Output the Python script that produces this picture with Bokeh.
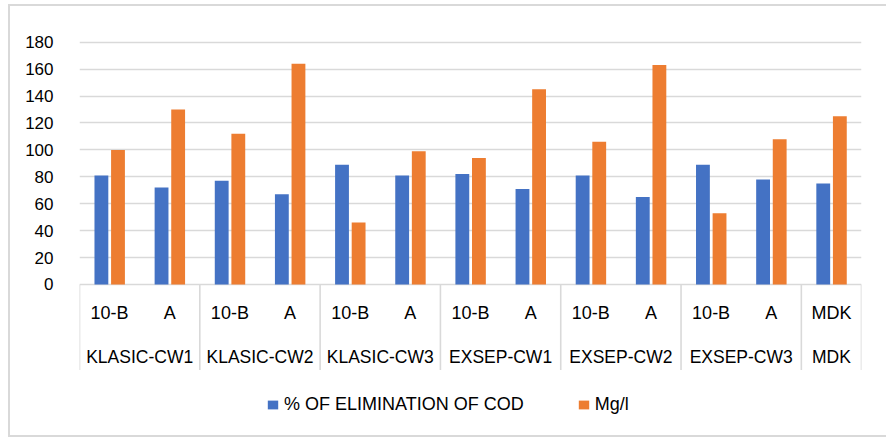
from bokeh.plotting import figure
from bokeh.models import FactorRange, Range1d, FixedTicker, ColumnDataSource, Legend, LegendItem
from bokeh.transform import dodge
from bokeh.core.properties import value
from bokeh.embed import file_html
from bokeh.resources import INLINE

# ---- data ----
groups = ["KLASIC-CW1", "KLASIC-CW2", "KLASIC-CW3", "EXSEP-CW1", "EXSEP-CW2", "EXSEP-CW3", "MDK"]
group_members = [["10-B", "A"], ["10-B", "A"], ["10-B", "A"], ["10-B", "A"],
                 ["10-B", "A"], ["10-B", "A"], ["MDK"]]
cod_elimination = [81, 72, 77, 67, 89, 81, 82, 71, 81, 65, 89, 78, 75]
mg_per_l = [100, 130, 112, 164, 46, 99, 94, 145, 106, 163, 53, 108, 125]
y_ticks = [0, 20, 40, 60, 80, 100, 120, 140, 160, 180]
series_names = ["% OF ELIMINATION OF COD", "Mg/l"]

BLUE = "#4472C4"
ORANGE = "#ED7D31"
GRID = "#d9d9d9"
FONT = "Liberation Sans"

factors = [(g, s) for g, subs in zip(groups, group_members) for s in subs]

p = figure(
    x_range=FactorRange(*factors, range_padding=0, group_padding=0,
                        factor_padding=0, subgroup_padding=0),
    y_range=Range1d(-103.3, 185),
    width=878, height=433,
    output_backend="svg", toolbar_location=None,
    x_axis_location=None,
    min_border_left=69, min_border_right=27, min_border_top=29, min_border_bottom=16,
)
p.margin = (4, 0, 0, 8)
p.outline_line_color = None
p.styles = {"border-left": "2px solid #d9d9d9",
            "border-top": "2px solid #d9d9d9",
            "border-bottom": "2px solid #d9d9d9"}

src = ColumnDataSource(dict(x=factors, cod=cod_elimination, mg=mg_per_l))
r1 = p.vbar(x=dodge("x", -0.136, range=p.x_range), top="cod", width=0.23,
            source=src, fill_color=BLUE, line_color=None)
r2 = p.vbar(x=dodge("x", 0.14, range=p.x_range), top="mg", width=0.23,
            source=src, fill_color=ORANGE, line_color=None)

# y axis / grid
p.yaxis.ticker = FixedTicker(ticks=y_ticks)
p.ygrid.ticker = FixedTicker(ticks=y_ticks)
p.yaxis.axis_line_color = None
p.yaxis.major_tick_line_color = None
p.yaxis.minor_tick_line_color = None
p.yaxis.major_label_standoff = 20
p.yaxis.major_label_text_font = FONT
p.yaxis.major_label_text_font_size = "17px"
p.yaxis.major_label_text_color = "#000000"
p.ygrid.grid_line_color = GRID
p.ygrid.grid_line_width = 1.6
p.xgrid.grid_line_color = None

# category axis drawn below zero
sep_x = [(g, subs[0], -0.5) for g, subs in zip(groups, group_members)]
sep_x.append((groups[-1], group_members[-1][-1], 0.5))
sep = ColumnDataSource(dict(x=sep_x, y0=[0] * len(sep_x), y1=[-63.5] * len(sep_x)))
p.segment(x0="x", x1="x", y0="y0", y1="y1", source=sep, line_color=GRID, line_width=1.6)

sub_src = ColumnDataSource(dict(x=factors, t=[f[1] for f in factors], y=[-21.5] * len(factors)))
p.text(x="x", y="y", text="t", source=sub_src, text_align="center", text_baseline="middle",
       text_font=value(FONT), text_font_size="18px", text_color="#000000")

grp_src = ColumnDataSource(dict(x=groups, y=[-54] * len(groups)))
p.text(x="x", y="y", text="x", source=grp_src, text_align="center", text_baseline="middle",
       text_font=value(FONT), text_font_size="17.5px", text_color="#000000")

legend = Legend(
    items=[LegendItem(label=series_names[0], renderers=[r1]),
           LegendItem(label=series_names[1], renderers=[r2])],
    location=(187, 8), orientation="horizontal",
    padding=0, margin=0, spacing=53,
    glyph_width=13, glyph_height=11, label_standoff=5, label_height=20,
    label_text_font=FONT, label_text_font_size="18px", label_text_color="#000000",
    border_line_color=None, background_fill_alpha=0,
)
p.add_layout(legend)

open("out.html", "w").write(file_html(p, INLINE))
